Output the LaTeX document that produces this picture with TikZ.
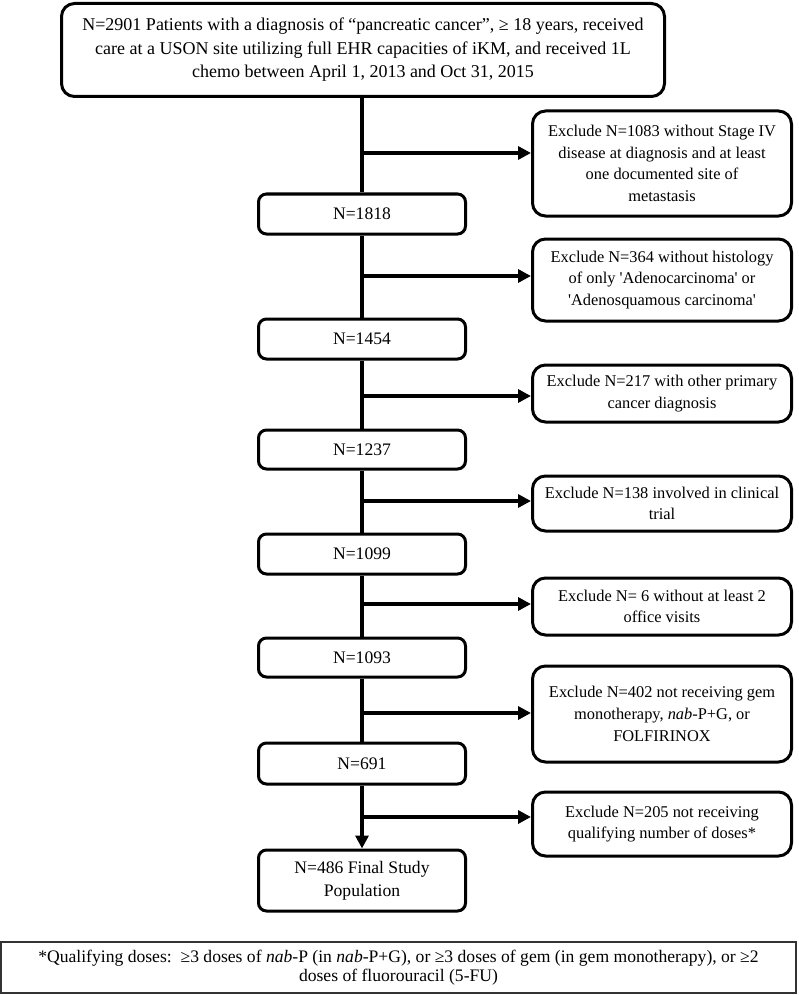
\documentclass[tikz,border=0pt]{standalone}
\usepackage{fontspec}
\setmainfont{Liberation Serif}
\usetikzlibrary{arrows.meta,calc}
\tikzset{
  boxbase/.style={draw=black,line width=3pt,fill=white,inner sep=0pt,align=center},
  topbox/.style={boxbase,rounded corners=13pt,minimum width=603pt,minimum height=93pt,
    font=\fontsize{18}{23.5}\selectfont},
  flowbox/.style={boxbase,rounded corners=8pt,minimum width=207pt,
    font=\fontsize{17.6}{23}\selectfont},
  exclbox/.style={boxbase,rounded corners=13pt,minimum width=259pt,
    font=\fontsize{16.4}{21.7}\selectfont},
  notebox/.style={draw=black!80,line width=1.3pt,inner sep=0pt,align=center,
    minimum width=795pt,minimum height=51pt,font=\fontsize{17.6}{19.5}\selectfont},
  link/.style={line width=3.6pt},
  arr/.style={line width=3.6pt,-{Triangle[length=13pt,width=13pt]}}
}
\begin{document}
\begin{tikzpicture}[x=1pt,y=-1pt]
\useasboundingbox (0,0) rectangle (798,995);
% main column
\node[topbox] (top) at (363,50) {N=2901 Patients with a diagnosis of “pancreatic cancer”, ≥ 18 years, received\\care at a USON site utilizing full EHR capacities of iKM, and received 1L\\chemo between April 1, 2013 and Oct 31, 2015};
\node[flowbox,minimum height=40pt] (n1) at (362,214) {N=1818};
\node[flowbox,minimum height=40pt] (n2) at (362,339) {N=1454};
\node[flowbox,minimum height=39pt] (n3) at (362,449.5) {N=1237};
\node[flowbox,minimum height=40pt] (n4) at (362,554) {N=1099};
\node[flowbox,minimum height=39pt] (n5) at (362,657.5) {N=1093};
\node[flowbox,minimum height=41pt] (n6) at (362,763.5) {N=691};
\node[flowbox,minimum height=61pt] (n7) at (362,880.5) {N=486 Final Study\\Population};
% exclusions
\node[exclbox,minimum height=105pt] (e1) at (662,163.5) {Exclude N=1083 without Stage IV\\disease at diagnosis and at least\\one documented site of\\metastasis};
\node[exclbox,minimum height=82pt] (e2) at (662,280) {Exclude N=364 without histology\\of only \textquotesingle Adenocarcinoma\textquotesingle{} or\\\textquotesingle Adenosquamous carcinoma\textquotesingle};
\node[exclbox,minimum height=57pt] (e3) at (662,393.5) {Exclude N=217 with other primary\\cancer diagnosis};
\node[exclbox,minimum height=55pt] (e4) at (662,503.5) {Exclude N=138 involved in clinical\\trial};
\node[exclbox,minimum height=57pt] (e5) at (662,606.5) {Exclude N= 6 without at least 2\\office visits};
\node[exclbox,minimum height=96pt] (e6) at (662,714) {Exclude N=402 not receiving gem\\monotherapy, \textit{nab}-P+G, or\\FOLFIRINOX};
\node[exclbox,minimum height=64pt] (e7) at (662,824) {Exclude N=205 not receiving\\qualifying number of doses*};
% footnote
\node[notebox] (note) at (398.5,967.5) {*Qualifying doses:\ \ ≥3 doses of \textit{nab}-P (in \textit{nab}-P+G), or ≥3 doses of gem (in gem monotherapy), or ≥2\\doses of fluorouracil (5-FU)};
% vertical connectors
\draw[link] (top.south -| n1.north) -- (n1.north);
\draw[link] (n1.south) -- (n2.north);
\draw[link] (n2.south) -- (n3.north);
\draw[link] (n3.south) -- (n4.north);
\draw[link] (n4.south) -- (n5.north);
\draw[link] (n5.south) -- (n6.north);
\draw[arr] (n6.south) -- (n7.north);
% branch points
\coordinate (b1) at (362,153);
\coordinate (b2) at (362,276);
\coordinate (b3) at (362,396);
\coordinate (b4) at (362,501);
\coordinate (b5) at (362,604);
\coordinate (b6) at (362,713);
\coordinate (b7) at (362,817);
\draw[arr] (b1) -- (b1 -| e1.west);
\draw[arr] (b2) -- (b2 -| e2.west);
\draw[arr] (b3) -- (b3 -| e3.west);
\draw[arr] (b4) -- (b4 -| e4.west);
\draw[arr] (b5) -- (b5 -| e5.west);
\draw[arr] (b6) -- (b6 -| e6.west);
\draw[arr] (b7) -- (b7 -| e7.west);
\end{tikzpicture}
\end{document}
